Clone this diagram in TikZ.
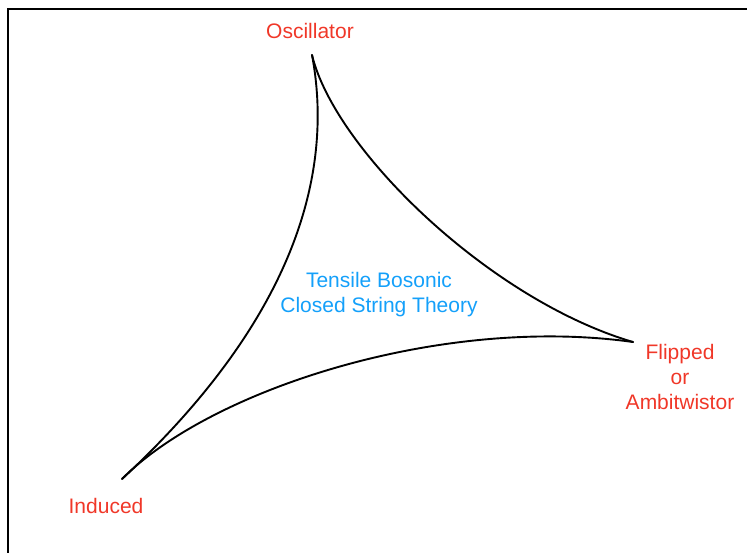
\documentclass[tikz,border=0pt]{standalone}
\usepackage{fontspec}
\setmainfont{Liberation Sans}
\usetikzlibrary{positioning}
\definecolor{cornerred}{RGB}{240,55,40}
\definecolor{theoryblue}{RGB}{20,160,250}

\begin{document}
\begin{tikzpicture}[x=1pt,y=-1pt,every node/.style={font=\fontsize{21}{25}\selectfont},corner/.style={text=cornerred,align=center},theory/.style={text=theoryblue,align=center},side/.style={line width=1.9pt,line cap=round,line join=round}]
    \useasboundingbox (0,0) rectangle (747,552);
    \clip (0,0) rectangle (747,552);
    \draw[line width=2.6pt] (8,9) rectangle (770,580);
    % cusps of the triangle
    \coordinate (osc) at (312,55);
    \coordinate (flip) at (633,342);
    \coordinate (ind) at (122,479);
    \node[corner] (osclabel) at (310,31) {Oscillator};
    \node[corner] (fliplabel) at (680,377) {Flipped\\ or\\ Ambitwistor};
    \node[corner] (indlabel) at (106,506) {Induced};
    \node[theory] (centre) at (379,295) {Tensile Bosonic\\ Closed String Theory};
    \draw[side] (osc) .. controls (330,150) and (315,300) .. (ind);
    \draw[side] (osc) .. controls (335,150) and (490,300) .. (flip);
    \draw[side] (ind) .. controls (210,390) and (440,315) .. (flip);
  \end{tikzpicture}
\end{document}
